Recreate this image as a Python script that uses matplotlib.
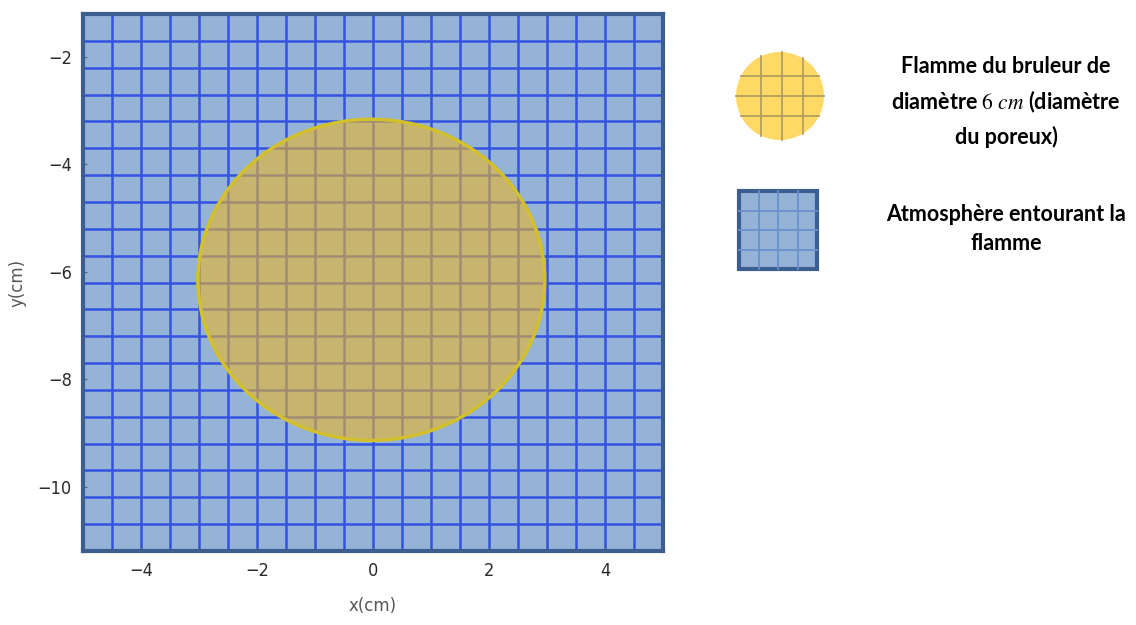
import matplotlib.pyplot as plt
import matplotlib.patches as mpatches
import numpy as np

# %% Data

x_lim = (-5.0, 5.0)
y_lim = (-11.2, -1.2)
cell = 0.5  # mesh size [cm]

flame_center = (-0.03, -6.15)  # [cm]
flame_radius = 2.99  # [cm]

x_ticks = [-4, -2, 0, 2, 4]
y_ticks = [-2, -4, -6, -8, -10]

legend_labels = ['Flamme du bruleur de\ndiamètre $6\\ cm$ (diamètre\ndu poreux)',
                 'Atmosphère entourant la\nflamme']

# %% Colours

bg_blue = '#95b3d7'
grid_blue = '#3352e0'
frame_blue = '#3d5f8f'
flame_fill = '#eab528'
flame_edge = '#d2c02c'

plt.rcParams['mathtext.fontset'] = 'stix'

# %% Plotting

fig = plt.figure(figsize=(11.36, 6.25), dpi=100)
ax = fig.add_axes([0.0731, 0.1184, 0.5106, 0.8592])
ax.set_facecolor(bg_blue)
ax.set_xlim(*x_lim)
ax.set_ylim(*y_lim)

ax.set_xticks(x_ticks)
ax.set_yticks(y_ticks)

# mesh lines
for xv in np.arange(x_lim[0] + cell, x_lim[1], cell):
    ax.axvline(xv, color=grid_blue, linewidth=1.8, zorder=0.5)
for yv in np.arange(y_lim[0] + cell, y_lim[1] - 0.01, cell):
    ax.axhline(yv, color=grid_blue, linewidth=1.8, zorder=0.5)

ax.tick_params(which='major', length=3, direction='in', color='#556677',
               labelsize=13, labelcolor='#2a2a2a', pad=8)
for lab in ax.get_xticklabels() + ax.get_yticklabels():
    lab.set_fontfamily('DejaVu Sans')
    lab.set_fontstretch('condensed')

for sp in ax.spines.values():
    sp.set_color(frame_blue)
    sp.set_linewidth(3)
    sp.set_zorder(4)

flame = mpatches.Circle(flame_center, flame_radius, facecolor=flame_fill,
                        alpha=0.6, edgecolor='none', zorder=2)
ax.add_patch(flame)
flame_rim = mpatches.Circle(flame_center, flame_radius, facecolor='none',
                            edgecolor=flame_edge, linewidth=2.5, zorder=3)
ax.add_patch(flame_rim)

ax.set_xlabel('x(cm)', fontsize=12, color='#555555', labelpad=12)
ax.set_ylabel('y(cm)', fontsize=12, color='#555555', labelpad=8)

# %% Legend (pixel coordinates of the figure)

lg = fig.add_axes([0, 0, 1, 1], zorder=5)
lg.set_xlim(0, 1136)
lg.set_ylim(625, 0)
lg.axis('off')
lg.patch.set_alpha(0)

# flame symbol
c = mpatches.Circle((780, 96), 44, facecolor='#ffd966', edgecolor='none')
lg.add_patch(c)
for xv in [761, 782, 803]:
    h = np.sqrt(44**2 - (xv - 780)**2)
    lg.plot([xv, xv], [96 - h, 96 + h], color='#b0a060', lw=1.3)
for yv in [76, 96, 116]:
    w = np.sqrt(44**2 - (yv - 96)**2)
    lg.plot([780 - w, 780 + w], [yv, yv], color='#b0a060', lw=1.3)

# atmosphere symbol
sq = mpatches.Rectangle((739, 191), 78, 78, facecolor=bg_blue, edgecolor='none')
lg.add_patch(sq)
for k in range(1, 4):
    lg.plot([739 + k * 19.5] * 2, [191, 269], color='#6a8fcc', lw=1.3)
    lg.plot([739, 817], [191 + k * 19.5] * 2, color='#6a8fcc', lw=1.3)
sq_frame = mpatches.Rectangle((739, 191), 78, 78, facecolor='none',
                              edgecolor=frame_blue, linewidth=3)
lg.add_patch(sq_frame)

lg.text(1006, 102, legend_labels[0], ha='center', va='center', fontsize=15.5,
        fontweight='bold', family='Lato', linespacing=1.6)
lg.text(1006, 229, legend_labels[1], ha='center', va='center', fontsize=15.5,
        fontweight='bold', family='Lato', linespacing=1.5)

fig.savefig('out.png', dpi=100)
